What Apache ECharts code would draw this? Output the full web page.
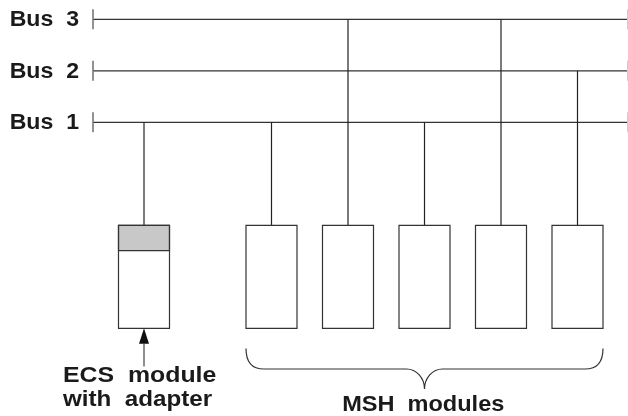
<!DOCTYPE html>
<html>
<head>
<meta charset="utf-8">
<script src="https://cdn.jsdelivr.net/npm/echarts@6/dist/echarts.min.js"></script>
<style>html,body{margin:0;padding:0;background:#fff}#c{width:628px;height:416px}</style>
</head>
<body>
<div id="c"></div>
<script>
// ---- data ----
const buses = ['Bus 1', 'Bus 2', 'Bus 3'];
const modules = ['ECS', 'MSH', 'MSH', 'MSH', 'MSH', 'MSH'];
const moduleBus = ['Bus 1', 'Bus 1', 'Bus 3', 'Bus 1', 'Bus 3', 'Bus 2'];
const moduleAdapter = [1, 0, 0, 0, 0, 0];
const ecsCaption = ['ECS  module', 'with  adapter'];
const mshCaption = 'MSH  modules';

// ---- layout (axis units) ----
const UX = 25.5, OX = 144;      // px per x unit, px of x=0
const UY = 51.5, OY = 173.8;    // px per y unit, px of y=0
const W = 628, H = 416;
const X_MIN = -OX / UX, X_MAX = (W - OX) / UX;
const Y_MAX = OY / UY, Y_MIN = -(H - OY) / UY;
const BOX_TOP = -1, BOX_BOTTOM = -3, ADAPTER_BOTTOM = -1.49;
const slotOf = i => (modules[i] === 'ECS' ? 0 : 5 + 3 * (i - 1));
const levelOf = name => buses.indexOf(name) + 1;
const FONT = 'bold 22px "Liberation Sans", Arial, sans-serif';
const LINE = '#222';

function label(pt, text, align, sx) {
  return {
    type: 'text', x: pt[0], y: pt[1], scaleX: sx || 1.07,
    style: { text: text, x: 0, y: 0, font: FONT, fill: '#1a1a1a',
             textAlign: align || 'center', textVerticalAlign: 'middle' }
  };
}
function seg(a, b, color, w) {
  return { type: 'line', shape: { x1: a[0], y1: a[1], x2: b[0], y2: b[1] },
           style: { stroke: color || LINE, lineWidth: w || 1.2 } };
}

const busData = buses.map((b, i) => [i + 1]);
const moduleData = modules.map((m, i) => [slotOf(i), levelOf(moduleBus[i]), moduleAdapter[i]]);
const mshSlots = modules.map((m, i) => i).filter(i => modules[i] === 'MSH').map(slotOf);
const braceData = [[Math.min.apply(null, mshSlots) - 1, Math.max.apply(null, mshSlots) + 1]];

const chart = echarts.init(document.getElementById('c'), null, { renderer: 'canvas' });
chart.setOption({
  animation: false,
  backgroundColor: '#fff',
  grid: { left: 0, right: 0, top: 0, bottom: 0 },
  xAxis: { type: 'value', min: X_MIN, max: X_MAX, show: false },
  yAxis: { type: 'value', min: Y_MIN, max: Y_MAX, show: false },
  series: [
    {
      type: 'custom', data: busData, clip: false,
      renderItem: function (params, api) {
        const y = api.value(0);
        const start = api.coord([-2, y]);
        const end = api.coord([X_MAX, y]);
        const capTop = api.coord([-2, y + 0.194]);
        const capBot = api.coord([-2, y - 0.194]);
        const rTop = api.coord([X_MAX - 0.02, y + 0.194]);
        const rBot = api.coord([X_MAX - 0.02, y - 0.194]);
        return { type: 'group', children: [
          seg(start, end, '#333', 1.3),
          seg(capTop, capBot, '#777', 1.6),
          seg(rTop, rBot, '#ccc', 1),
          label(api.coord([-2.55, y - 0.02]), buses[params.dataIndex].replace(' ', '  '), 'right', 1.05)
        ]};
      }
    },
    {
      type: 'custom', data: moduleData, clip: false,
      renderItem: function (params, api) {
        const x = api.value(0), lvl = api.value(1), adapter = api.value(2);
        const tl = api.coord([x - 1, BOX_TOP]);
        const br = api.coord([x + 1, BOX_BOTTOM]);
        const children = [];
        children.push(seg(api.coord([x, lvl]), api.coord([x, BOX_TOP]), LINE, 1.2));
        if (adapter) {
          const ab = api.coord([x + 1, ADAPTER_BOTTOM]);
          children.push({ type: 'rect', shape: { x: tl[0], y: tl[1], width: ab[0] - tl[0], height: ab[1] - tl[1] },
                          style: { fill: '#c8c8c8', stroke: '#333', lineWidth: 1.2 } });
        }
        children.push({ type: 'rect', shape: { x: tl[0], y: tl[1], width: br[0] - tl[0], height: br[1] - tl[1] },
                        style: { fill: 'none', stroke: '#333', lineWidth: 1.2 } });
        if (adapter) {
          const tip = api.coord([x, BOX_BOTTOM]);
          const hb = api.coord([x, -3.3]);
          const tail = api.coord([x, -3.74]);
          const hw = 5;
          children.push(seg(hb, tail, '#444', 1.2));
          children.push({ type: 'polygon', shape: { points: [[tip[0], tip[1]], [tip[0] - hw, hb[1]], [tip[0] + hw, hb[1]]] },
                          style: { fill: '#111' } });
          children.push(label(api.coord([x - 0.17, -3.93]), ecsCaption[0], 'center', 1.13));
          children.push(label(api.coord([x - 0.25, -4.39]), ecsCaption[1], 'center', 1.1));
        }
        return { type: 'group', children: children };
      }
    },
    {
      type: 'custom', data: braceData, clip: false,
      renderItem: function (params, api) {
        const x0 = api.value(0), x1 = api.value(1), xm = (x0 + x1) / 2;
        const top = -3.39, mid = -3.79, tipY = -4.18;
        const a = api.coord([x0, top]), b = api.coord([x0, mid]);
        const m = api.coord([xm, tipY]);
        const c = api.coord([x1, top]);
        const r = 18, rm = 18;
        const y1 = b[1];
        const d = 'M' + a[0] + ' ' + a[1] +
          ' C' + a[0] + ' ' + (a[1] + 13) + ' ' + (a[0] + 6) + ' ' + y1 + ' ' + (a[0] + r) + ' ' + y1 +
          ' L' + (m[0] - rm) + ' ' + y1 +
          ' C' + (m[0] - 8) + ' ' + y1 + ' ' + m[0] + ' ' + (y1 + 9) + ' ' + m[0] + ' ' + m[1] +
          ' C' + m[0] + ' ' + (y1 + 9) + ' ' + (m[0] + 8) + ' ' + y1 + ' ' + (m[0] + rm) + ' ' + y1 +
          ' L' + (c[0] - r) + ' ' + y1 +
          ' C' + (c[0] - 6) + ' ' + y1 + ' ' + c[0] + ' ' + (c[1] + 13) + ' ' + c[0] + ' ' + c[1];
        return { type: 'group', children: [
          { type: 'path', shape: { pathData: d }, style: { fill: 'none', stroke: '#333', lineWidth: 1.2 } },
          label(api.coord([xm - 0.05, -4.49]), mshCaption, 'center', 1.07)
        ]};
      }
    }
  ]
});
</script>
</body>
</html>
